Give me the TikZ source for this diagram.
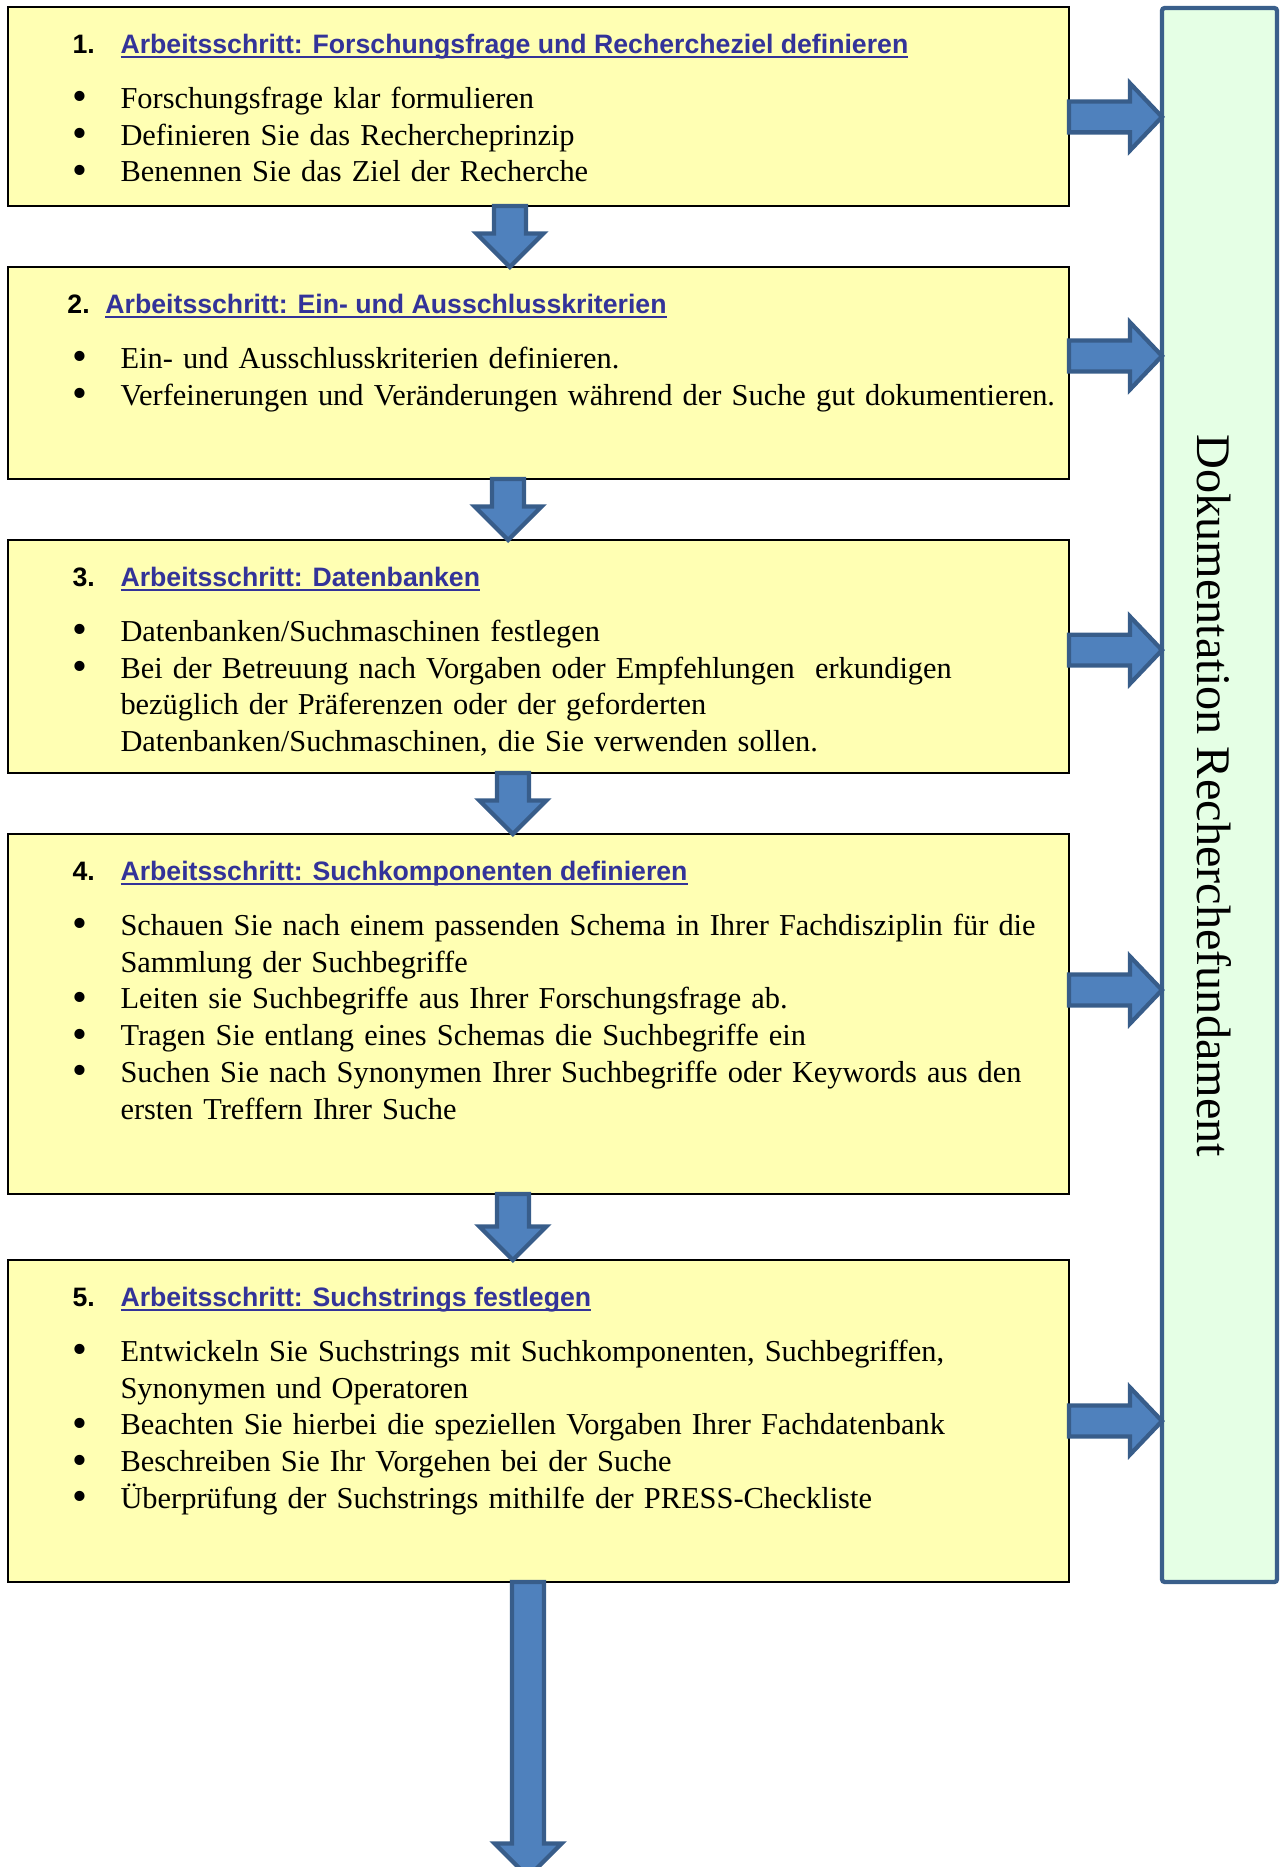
\documentclass[tikz,border=0pt]{standalone}
\usepackage{fontspec}
\usepackage{graphicx}
\setmainfont{Liberation Serif}
\newfontfamily\arialfont{Liberation Sans}
\usetikzlibrary{calc,fit}
\hyphenpenalty=10000

\definecolor{kastengelb}{HTML}{FFFFB3}
\definecolor{dokugruen}{HTML}{E5FFE5}
\definecolor{dokurand}{HTML}{3A5F8B}
\definecolor{pfeilblau}{HTML}{4F81BD}
\definecolor{pfeilrand}{HTML}{385D8A}
\definecolor{titelblau}{HTML}{333399}

% Unterstreichung mit fester Tiefe
\newcommand{\unterstr}[1]{\setbox0\hbox{#1}\rlap{\rule[-1.7pt]{\wd0}{0.8pt}}\box0}
\newcommand{\titel}[1]{\textcolor{titelblau}{\unterstr{#1}}}
\newcommand{\punkt}{\par\hangindent=18pt\hangafter=1\noindent\rule{0pt}{10pt}%
  \makebox[18pt][l]{\smash{\raisebox{-0.9pt}{\scalebox{1.4}{\textbullet}}}}}

\tikzset{
  schritt/.style={draw=black, line width=1pt, fill=kastengelb, inner sep=0pt, outer sep=0pt},
  dokukasten/.style={draw=dokurand, line width=1.6pt, fill=dokugruen, rounded corners=1pt, inner sep=0pt, outer sep=0pt},
  kopf/.style={anchor=base west, inner sep=0pt, font=\arialfont\bfseries\fontsize{10}{12}\selectfont},
  liste/.style={anchor=north west, inner sep=0pt, text width=400pt, align=left,
    font=\fontsize{11.4}{13.8}\selectfont},
  pfeilrunter/.style={draw=pfeilrand, fill=pfeilblau, line width=1.6pt,
    to path={let \p1=(\tikztostart), \p2=(\tikztotarget) in
      (\x1-6pt,\y1) -- (\x1-6pt,\y2+12.6pt) -- (\x1-12.6pt,\y2+12.6pt) -- (\x1,\y2)
      -- (\x1+12.6pt,\y2+12.6pt) -- (\x1+6pt,\y2+12.6pt) -- (\x1+6pt,\y1) -- cycle}},
  pfeilrechts/.style={draw=pfeilrand, fill=pfeilblau, line width=1.6pt,
    to path={let \p1=(\tikztostart), \p2=(\tikztotarget) in
      (\x1,\y1+5.8pt) -- (\x2-12pt,\y1+5.8pt) -- (\x2-12pt,\y1+12.6pt) -- (\x2,\y1)
      -- (\x2-12pt,\y1-12.6pt) -- (\x2-12pt,\y1-5.8pt) -- (\x1,\y1-5.8pt) -- cycle}}
}

\begin{document}
\begin{tikzpicture}[x=0.375pt, y=-0.375pt]
\useasboundingbox (0,0) rectangle (1282,1867);

% Kaesten
\node[schritt, fit={(8,7) (1069,206)}] (s1) {};
\node[schritt, fit={(8,267) (1069,479)}] (s2) {};
\node[schritt, fit={(8,540) (1069,773)}] (s3) {};
\node[schritt, fit={(8,834) (1069,1194)}] (s4) {};
\node[schritt, fit={(8,1260) (1069,1582)}] (s5) {};
\node[dokukasten, fit={(1162,8) (1277,1582)}] (doku) {};
\coordinate (ende) at (528,1877);

% Pfeile
\foreach \von/\nach/\dx in {s1/s2/-10.7, s2/s3/-11.4, s3/s4/-9.6, s4/s5/-9.6}
  \draw[pfeilrunter] ([xshift=\dx pt]\von.south) to (\nach.north);
\draw[pfeilrunter] ([xshift=-3.9pt]s5.south) to (ende);
\foreach \k/\dy in {s1/-3.9, s2/6.4, s3/2.4, s4/9, s5/0}
  \draw[pfeilrechts] ([yshift=\dy pt]\k.east) to (doku.west);

% Texte
\node[kopf] (k1) at ([shift={(24pt,-17.6pt)}]s1.north west) {\makebox[18pt][l]{1.}\titel{Arbeitsschritt: Forschungsfrage und Rechercheziel definieren}};
\node[liste] (l1) at ([shift={(24pt,-24pt)}]s1.north west) {%
  \punkt Forschungsfrage klar formulieren
  \punkt Definieren Sie das Rechercheprinzip
  \punkt Benennen Sie das Ziel der Recherche\par};

\node[kopf] (k2) at ([shift={(22.1pt,-17.3pt)}]s2.north west) {\makebox[14.25pt][l]{2.}\titel{Arbeitsschritt: Ein- und Ausschlusskriterien}};
\node[liste] (l2) at ([shift={(24pt,-24pt)}]s2.north west) {%
  \punkt Ein- und Ausschlusskriterien definieren.
  \punkt Verfeinerungen und Veränderungen während der Suche gut dokumentieren.\par};

\node[kopf] (k3) at ([shift={(24pt,-17.6pt)}]s3.north west) {\makebox[18pt][l]{3.}\titel{Arbeitsschritt: Datenbanken}};
\node[liste] (l3) at ([shift={(24pt,-24pt)}]s3.north west) {%
  \punkt Datenbanken/Suchmaschinen festlegen
  \punkt Bei der Betreuung nach Vorgaben oder Empfehlungen\ \ erkundigen\newline
  bezüglich der Präferenzen oder der geforderten\newline
  Datenbanken/Suchmaschinen, die Sie verwenden sollen.\par};

\node[kopf] (k4) at ([shift={(24pt,-17.6pt)}]s4.north west) {\makebox[18pt][l]{4.}\titel{Arbeitsschritt: Suchkomponenten definieren}};
\node[liste] (l4) at ([shift={(24pt,-24pt)}]s4.north west) {%
  \punkt Schauen Sie nach einem passenden Schema in Ihrer Fachdisziplin für die\newline
  Sammlung der Suchbegriffe
  \punkt Leiten sie Suchbegriffe aus Ihrer Forschungsfrage ab.
  \punkt Tragen Sie entlang eines Schemas die Suchbegriffe ein
  \punkt Suchen Sie nach Synonymen Ihrer Suchbegriffe oder Keywords aus den\newline
  ersten Treffern Ihrer Suche\par};

\node[kopf] (k5) at ([shift={(24pt,-17.6pt)}]s5.north west) {\makebox[18pt][l]{5.}\titel{Arbeitsschritt: Suchstrings festlegen}};
\node[liste] (l5) at ([shift={(24pt,-24pt)}]s5.north west) {%
  \punkt Entwickeln Sie Suchstrings mit Suchkomponenten, Suchbegriffen,\newline
  Synonymen und Operatoren
  \punkt Beachten Sie hierbei die speziellen Vorgaben Ihrer Fachdatenbank
  \punkt Beschreiben Sie Ihr Vorgehen bei der Suche
  \punkt Überprüfung der Suchstrings mithilfe der PRESS-Checkliste\par};

\node[rotate=-90, inner sep=0pt, font=\fontsize{18.1}{21}\selectfont] (dt) at ([shift={(-1.8pt,-0.3pt)}]doku.center) {Dokumentation Recherchefundament};
\end{tikzpicture}
\end{document}
